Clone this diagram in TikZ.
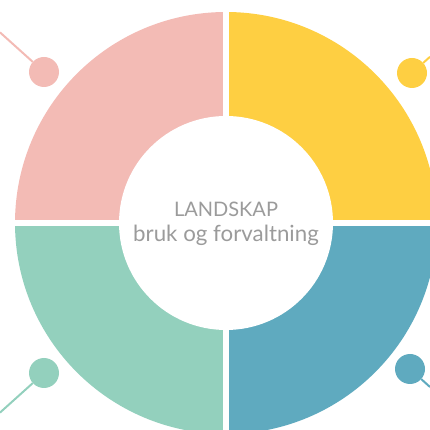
\documentclass[tikz,border=0pt]{standalone}
\usepackage{fontspec}
\setmainfont{Lato}
\definecolor{pinkc}{RGB}{243,187,181}
\definecolor{yellowc}{RGB}{254,207,66}
\definecolor{greenc}{RGB}{147,208,189}
\definecolor{bluec}{RGB}{95,170,191}
\definecolor{textc}{RGB}{155,155,155}
\begin{document}
\begin{tikzpicture}[x=1pt,y=1pt,
  dot/.style={circle,inner sep=0pt,minimum size=30pt,fill=#1},
  lead/.style={draw=#1,line width=2pt},
  lbl/.style={text=textc,anchor=base,inner sep=0pt}]
\useasboundingbox (0,0) rectangle (430,430);
\coordinate (C) at (226,207);
% quadrants
\fill[pinkc] (C) -- ++(180:211) arc[start angle=180,end angle=90,radius=211] -- cycle;
\fill[yellowc] (C) -- ++(90:211) arc[start angle=90,end angle=0,radius=211] -- cycle;
\fill[bluec] (C) -- ++(0:211) arc[start angle=0,end angle=-90,radius=211] -- cycle;
\fill[greenc] (C) -- ++(270:211) arc[start angle=270,end angle=180,radius=211] -- cycle;
% gaps
\fill[white] (223,-20) rectangle (229,450);
\fill[white] (-20,204) rectangle (450,210);
\fill[white] (C) circle[radius=107];
% dots and leads
\node[dot=pinkc] (d1) at (44,358) {};
\node[dot=yellowc] (d2) at (412,357) {};
\node[dot=greenc] (d3) at (44,57) {};
\node[dot=bluec] (d4) at (410,61) {};
\coordinate (e1) at (0,397.6);
\coordinate (e2) at (430,373.2);
\coordinate (e3) at (0,17.4);
\coordinate (e4) at (430,43);
\draw[lead=pinkc] (d1) -- (e1);
\draw[lead=yellowc] (d2) -- (e2);
\draw[lead=greenc] (d3) -- (e3);
\draw[lead=bluec] (d4) -- (e4);
% text
\node[lbl,font=\fontsize{20}{24}\selectfont] (t1) at (226,213.3) {LANDSKAP};
\node[lbl,font=\fontsize{22.3}{26}\selectfont] (t2) at (226,188.3) {bruk og forvaltning};
\end{tikzpicture}
\end{document}
